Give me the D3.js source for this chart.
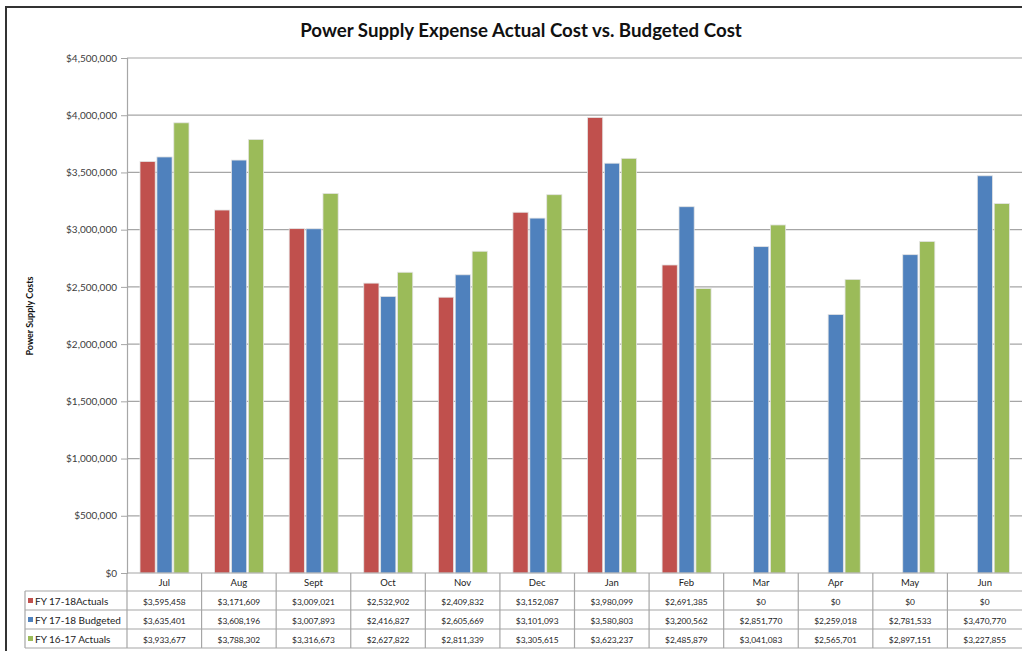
<!DOCTYPE html>
<html>
<head>
<meta charset="utf-8">
<script src="https://cdn.jsdelivr.net/npm/d3@7"></script>
<style>
  body { margin: 0; background: #fff; }
  svg { display: block; font-family: Lato, "Open Sans", sans-serif; }
</style>
</head>
<body>
<svg id="chart" width="1022" height="651"></svg>
<script>
// months along the x axis
var months = ["Jul", "Aug", "Sept", "Oct", "Nov", "Dec", "Jan", "Feb", "Mar", "Apr", "May", "Jun"];
// series names, as written in the data table
var seriesNames = ["FY 17-18Actuals", "FY 17-18 Budgeted", "FY 16-17 Actuals"];
var actuals1718 = [3595458, 3171609, 3009021, 2532902, 2409832, 3152087, 3980099, 2691385, 0, 0, 0, 0];
var budgeted1718 = [3635401, 3608196, 3007893, 2416827, 2605669, 3101093, 3580803, 3200562, 2851770, 2259018, 2781533, 3470770];
var actuals1617 = [3933677, 3788302, 3316673, 2627822, 2811339, 3305615, 3623237, 2485879, 3041083, 2565701, 2897151, 3227855];
var yTicks = [0, 500000, 1000000, 1500000, 2000000, 2500000, 3000000, 3500000, 4000000, 4500000];

var colors = ["#c0504d", "#4f81bd", "#9bbb59"];
var seriesValues = [actuals1718, budgeted1718, actuals1617];

function drawChart() {
    var svg = d3.select("#chart");
    var pLeft = 127, pRight = 1022, pTop = 58, pBottom = 573;
    var rowH = [18, 19, 19, 19];
    var lineColor = "#a6a6a6";

    // outer frame
    svg.append("path")
        .attr("d", "M6,651V7H1022")
        .attr("fill", "none")
        .attr("stroke", "#333")
        .attr("stroke-width", 2);

    // title
    svg.append("text")
        .attr("x", 521).attr("y", 37)
        .attr("text-anchor", "middle")
        .style("font-size", "18.7px")
        .style("font-weight", "bold")
        .style("fill", "#111")
        .text("Power Supply Expense Actual Cost vs. Budgeted Cost");

    var x = d3.scaleBand().domain(months).range([pLeft, pRight]);
    var xs = d3.scaleBand().domain(d3.range(3)).range([13, 62]).paddingInner(0.1);
    var y = d3.scaleLinear().domain([0, 4500000]).range([pBottom, pTop]);

    // grid lines
    svg.append("g").selectAll("line")
        .data(yTicks.slice(1))
        .enter().append("line")
        .attr("x1", pLeft).attr("x2", pRight)
        .attr("y1", function(d) { return y(d); })
        .attr("y2", function(d) { return y(d); })
        .attr("stroke", lineColor)
        .attr("stroke-width", 1.2);

    // y axis
    var yAxis = svg.append("g")
        .attr("transform", "translate(" + pLeft + ",0)")
        .call(d3.axisLeft(y).tickValues(yTicks).tickSize(6).tickPadding(4)
            .tickFormat(function(d) { return "$" + d3.format(",")(d); }));
    yAxis.select(".domain").attr("stroke", lineColor).attr("stroke-width", 1.2);
    yAxis.selectAll(".tick line").attr("stroke", lineColor);
    yAxis.selectAll(".tick text")
        .style("font-size", "10px")
        .style("font-family", "Lato, sans-serif")
        .attr("fill", "#404040");

    // y axis title
    svg.append("text")
        .attr("transform", "translate(33,316) rotate(-90)")
        .attr("text-anchor", "middle")
        .style("font-size", "9px")
        .style("font-weight", "bold")
        .style("fill", "#111")
        .text("Power Supply Costs");

    // bars
    var groups = svg.append("g").selectAll("g")
        .data(months)
        .enter().append("g")
        .attr("transform", function(d) { return "translate(" + x(d) + ",0)"; });
    groups.selectAll("rect")
        .data(function(m, i) { return seriesValues.map(function(s, k) { return {k: k, v: s[i]}; }); })
        .enter().append("rect")
        .filter(function(d) { return d.v > 0; })
        .attr("x", function(d) { return xs(d.k); })
        .attr("width", xs.bandwidth())
        .attr("y", function(d) { return y(d.v); })
        .attr("height", function(d) { return pBottom - y(d.v); })
        .attr("fill", function(d) { return colors[d.k]; })
        .attr("stroke", "#e4e4e4")
        .attr("stroke-width", 0.8);

    // data table
    var table = svg.append("g");
    var rowY = [pBottom];
    rowH.forEach(function(h) { rowY.push(rowY[rowY.length - 1] + h); });

    // horizontal lines
    table.append("line")
        .attr("x1", pLeft).attr("x2", pRight).attr("y1", pBottom).attr("y2", pBottom)
        .attr("stroke", lineColor).attr("stroke-width", 1.2);
    rowY.slice(1).forEach(function(yy) {
        table.append("line")
            .attr("x1", 25).attr("x2", pRight).attr("y1", yy).attr("y2", yy)
            .attr("stroke", lineColor).attr("stroke-width", 1.2);
    });
    // vertical lines
    table.append("line")
        .attr("x1", 25).attr("x2", 25).attr("y1", rowY[1]).attr("y2", rowY[4])
        .attr("stroke", lineColor).attr("stroke-width", 1.2);
    months.forEach(function(m) {
        table.append("line")
            .attr("x1", x(m)).attr("x2", x(m)).attr("y1", pBottom).attr("y2", rowY[4])
            .attr("stroke", lineColor).attr("stroke-width", 1.2);
    });

    // month header
    table.selectAll(".month")
        .data(months)
        .enter().append("text")
        .attr("class", "month")
        .attr("x", function(d) { return x(d) + x.bandwidth() / 2; })
        .attr("y", rowY[0] + 13)
        .attr("text-anchor", "middle")
        .style("font-size", "9.5px")
        .style("fill", "#222")
        .text(function(d) { return d; });

    // series rows
    seriesNames.forEach(function(name, k) {
        var cy = rowY[k + 1] + 13.5;
        table.append("rect")
            .attr("x", 28).attr("y", cy - 6.5)
            .attr("width", 5).attr("height", 5)
            .attr("fill", colors[k]);
        table.append("text")
            .attr("x", 35).attr("y", cy)
            .style("font-size", "10px")
            .style("fill", "#222")
            .text(name);
        table.selectAll(".val" + k)
            .data(seriesValues[k])
            .enter().append("text")
            .attr("x", function(d, i) { return x(months[i]) + x.bandwidth() / 2; })
            .attr("y", cy)
            .attr("text-anchor", "middle")
            .style("font-size", "8.4px")
            .style("fill", "#222")
            .text(function(d) { return "$" + d3.format(",")(d); });
    });
}

drawChart();
</script>
</body>
</html>
